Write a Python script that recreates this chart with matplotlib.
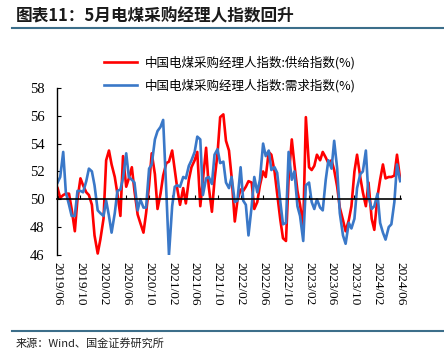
import numpy as np
import pandas as pd
import matplotlib
matplotlib.use('Agg')
import matplotlib.pyplot as plt
import matplotlib.dates as mdates

plt.rcParams['font.family'] = ['Noto Sans CJK SC', 'DejaVu Sans']
plt.rcParams['axes.unicode_minus'] = False

# semi-monthly readings, 2019/06 - 2024/06
dates = pd.date_range('2019-06-01', periods=121, freq='SMS')

supply = [50.8, 50.1, 50.3, 50.4, 50.4, 49.3, 47.7, 50.0, 51.5, 51.0,
          50.5, 50.3, 49.6, 47.4, 46.1, 47.1, 48.6, 52.8, 53.5, 52.5,
          51.6, 50.4, 48.8, 53.1, 50.9, 51.5, 52.3, 50.6, 48.9, 48.3,
          47.6, 49.0, 51.0, 53.3, 51.8, 49.3, 50.4, 51.7, 52.6, 52.7,
          53.5, 52.1, 50.7, 49.6, 50.8, 49.7, 51.4, 52.3, 52.8, 53.4,
          49.5, 51.4, 53.7, 50.9, 49.1, 51.4, 53.3, 55.9, 56.1, 54.2,
          53.5, 51.6, 48.4, 49.9, 50.7, 50.6, 50.9, 51.3, 51.2, 49.3,
          49.8, 51.0, 52.0, 51.6, 53.4, 53.2, 52.0, 50.4, 48.5, 47.2,
          47.0, 51.5, 54.3, 52.5, 50.6, 49.6, 48.0, 55.9, 52.3, 52.1,
          52.4, 53.2, 52.8, 53.4, 53.0, 52.6, 52.8, 52.1, 50.9, 49.4,
          48.5, 47.7, 48.5, 49.5, 52.0, 53.2, 51.6, 50.5, 49.5, 51.2,
          48.6, 47.8, 50.2, 51.4, 52.5, 51.5, 51.6, 51.6, 51.7, 53.2,
          51.4]

demand = [51.2, 51.6, 53.4, 50.5, 49.6, 48.8, 48.8, 50.6, 50.6, 50.5,
          51.3, 52.2, 52.0, 51.0, 49.2, 49.0, 48.8, 49.9, 48.8, 47.6,
          49.0, 50.6, 50.7, 51.5, 53.3, 51.6, 51.4, 51.2, 49.2, 50.0,
          49.4, 49.4, 52.2, 52.5, 54.3, 54.9, 55.2, 55.7, 50.5, 46.0,
          49.5, 50.9, 51.0, 50.9, 51.6, 51.5, 52.4, 52.8, 53.4, 54.5,
          54.3, 50.3, 51.5, 51.6, 51.1, 53.2, 53.6, 52.6, 52.7, 51.2,
          50.8, 51.6, 49.8, 49.9, 52.3, 49.9, 49.6, 47.4, 49.5, 51.6,
          50.5, 51.4, 54.0, 53.1, 53.5, 52.1, 52.3, 51.9, 49.8, 48.2,
          48.3, 53.4, 51.4, 52.0, 49.5, 48.8, 47.0, 51.0, 51.2, 49.8,
          49.3, 50.0, 49.4, 49.2, 51.4, 52.8, 52.2, 54.2, 52.2, 49.0,
          47.4, 46.8, 48.3, 47.9, 48.6, 50.8, 51.8, 52.0, 53.5, 50.2,
          49.3, 49.5, 50.4, 48.3, 47.6, 47.1, 48.0, 48.2, 49.8, 52.5,
          51.3]

labels = ['中国电煤采购经理人指数:供给指数(%)', '中国电煤采购经理人指数:需求指数(%)']
title = '图表11：5月电煤采购经理人指数回升'
source = '来源：Wind、国金证券研究所'

fig = plt.figure(figsize=(4.44, 3.56), dpi=100)
ax = fig.add_axes([0.128, 0.284, 0.775, 0.469])

ax.plot(dates, supply, color='#ff0000', lw=1.9, label=labels[0])
ax.plot(dates, demand, color='#3a78c8', lw=1.9, label=labels[1])

ax.set_ylim(46, 58)
ax.set_yticks(np.arange(46, 59, 2))
ax.set_xlim(pd.Timestamp('2019-05-28'), pd.Timestamp('2024-06-05'))

for s in ['top', 'right']:
    ax.spines[s].set_visible(False)
ax.spines['left'].set_linewidth(1.0)
ax.spines['bottom'].set_position(('data', 50))
ax.spines['bottom'].set_linewidth(1.2)

ticks = pd.date_range('2019-06-01', '2024-06-01', freq='4MS')
ax.set_xticks(ticks)
ax.tick_params(axis='x', direction='in', length=3, labelbottom=False)
ax.tick_params(axis='y', direction='in', length=3, pad=9, labelsize=10.5)
for t in ax.get_yticklabels():
    t.set_fontfamily('Liberation Serif')

# date labels sit at the bottom of the axes, not on the 50 line
sec = ax.secondary_xaxis('bottom')
sec.set_xticks(ticks)
sec.xaxis.set_major_formatter(mdates.DateFormatter('%Y/%m'))
sec.tick_params(length=0, pad=5, labelsize=9.5)
sec.spines['bottom'].set_visible(False)
for t in sec.get_xticklabels():
    t.set_rotation(-90)
    t.set_fontfamily('Liberation Serif')

fig.legend(loc='upper left', bbox_to_anchor=(0.21, 0.875), frameon=False,
           fontsize=9, handlelength=2.6, labelspacing=0.75, handletextpad=0.6)

fig.text(0.035, 0.955, title, fontsize=12, fontweight='bold', style='italic',
         va='center', color='#1a1a1a')
fig.add_artist(plt.Line2D([0.027, 1.0], [0.92, 0.92], color='#3c6e8a', lw=1.5))
fig.add_artist(plt.Line2D([0.027, 1.0], [0.071, 0.071], color='#3c6e8a', lw=1.5))
fig.text(0.035, 0.035, source, fontsize=8, va='center', color='#222222')

fig.savefig('out.png', dpi=100)
